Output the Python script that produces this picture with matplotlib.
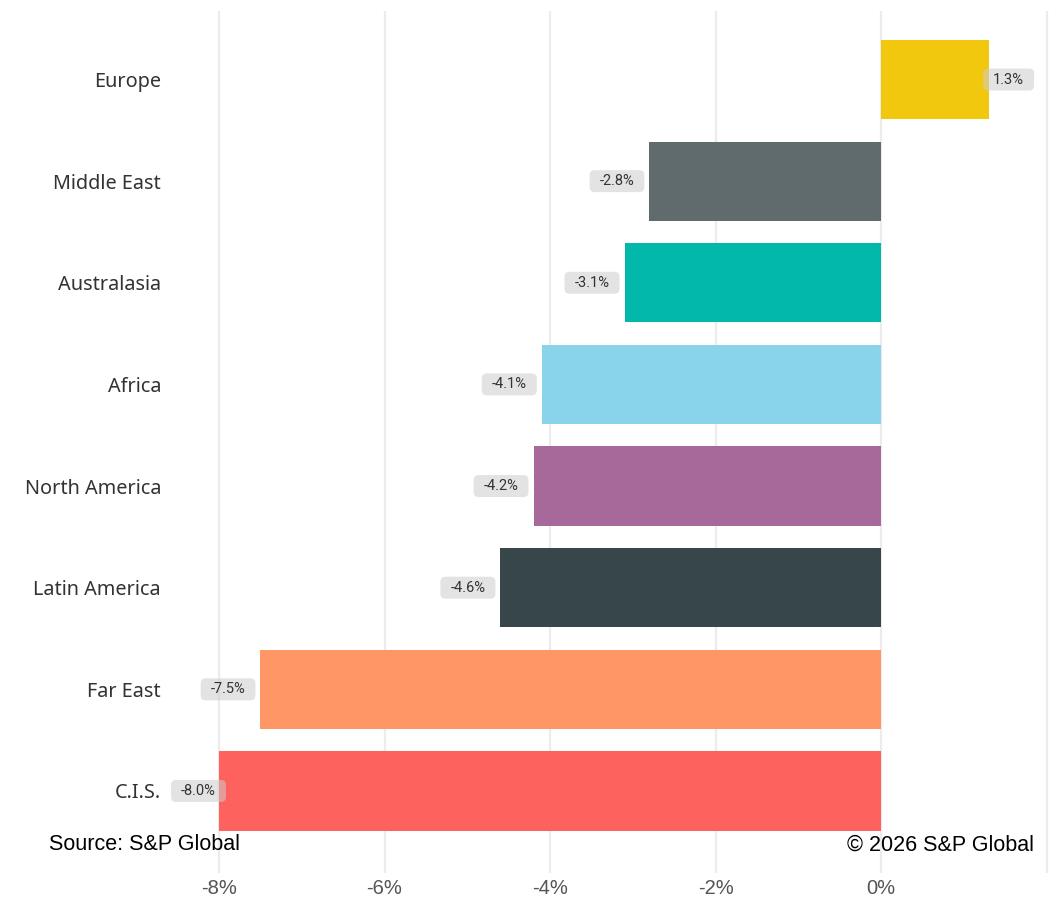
import matplotlib
matplotlib.use("Agg")
import matplotlib.pyplot as plt
from matplotlib.patches import FancyBboxPatch
from matplotlib.transforms import IdentityTransform

# regional change, percent
regions = ["Europe", "Middle East", "Australasia", "Africa",
           "North America", "Latin America", "Far East", "C.I.S."]
changes = [1.3, -2.8, -3.1, -4.1, -4.2, -4.6, -7.5, -8.0]
colors = ["#F2C80F", "#5F6B6D", "#01B8AA", "#8AD4EB",
          "#A66999", "#374649", "#FE9666", "#FD625E"]
tick_values = [-8, -6, -4, -2, 0, 2]
tick_labels = ["-8%", "-6%", "-4%", "-2%", "0%", ""]

W, H = 1056, 898
fig = plt.figure(figsize=(W / 100, H / 100), dpi=100)
ax = fig.add_axes([169.4 / W, 1 - 873 / H, (1050.7 - 169.4) / W, (873 - 11) / H])

for x in tick_values:
    ax.axvline(x, color="#ececec", lw=1.6, zorder=0)

ax.barh(range(len(regions)), changes, height=0.78, color=colors, zorder=2)

ax.set_xlim(-8.6, 2.05)
ax.set_ylim(7.807, -0.674)
ax.set_yticks(range(len(regions)))
ax.set_yticklabels(regions, fontsize=14.3, family="Noto Sans", color="#333333")
ax.set_xticks(tick_values)
ax.set_xticklabels(tick_labels, fontsize=14.5, family="Liberation Sans", color="#555555")
ax.tick_params(axis="both", length=0)
ax.tick_params(axis="y", pad=6)
ax.tick_params(axis="x", pad=4)
for s in ax.spines.values():
    s.set_visible(False)

# value labels in rounded grey boxes, kept inside the plot area
renderer = fig.canvas.get_renderer()
lo = ax.transData.transform((-8.58, 0))[0]
hi = ax.transData.transform((1.85, 0))[0]
for i, v in enumerate(changes):
    x_end, y_c = ax.transData.transform((v, i))
    t = fig.text(0, 0, f"{v:.1f}%", transform=IdentityTransform(), fontsize=10.5,
                 family="Roboto", color="#333333", ha="center", va="center", zorder=6)
    bw = t.get_window_extent(renderer).width + 20
    left = x_end - 5 - bw if v < 0 else x_end + 5
    left = max(left, lo)
    left = min(left, hi - bw)
    box = FancyBboxPatch((left, y_c - 11), bw, 22,
                         boxstyle="round,pad=0,rounding_size=5",
                         transform=IdentityTransform(), facecolor="#cccccc",
                         edgecolor="none", alpha=0.55, zorder=5)
    fig.add_artist(box)
    t.set_position((left + bw / 2, y_c))

fig.text(49 / W, 1 - 845 / H, "Source: S&P Global", fontsize=15.5,
         family="Liberation Sans", ha="left", va="center")
fig.text(1034 / W, 1 - 845 / H, "\u00a9 2026 S&P Global", fontsize=15.5,
         family="Liberation Sans", ha="right", va="center")

fig.savefig("out.png", dpi=100)
